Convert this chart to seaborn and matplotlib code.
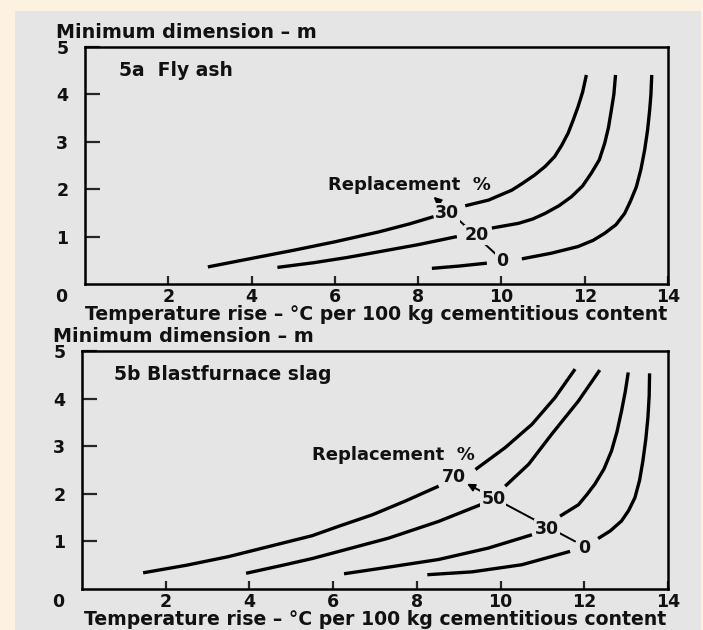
import numpy as np
import pandas as pd
import matplotlib
matplotlib.use("Agg")
import matplotlib.pyplot as plt
from matplotlib.patches import Rectangle
import seaborn as sns

# ── 5a Fly ash: curves per replacement %, NaN = gap where the label sits ──
nan = np.nan
fly_30_x = [2.95, 4.0, 5.0, 6.0, 7.06, 7.8, 8.37, 8.7, 9.13, 9.69, 10.25, 10.5, 10.8, 11.05,
            11.28, 11.45, 11.6, 11.72, 11.84, 11.95, 12.04]
fly_30_y = [0.36, 0.54, 0.71, 0.89, 1.10, 1.27, 1.42, nan, 1.65, 1.77, 1.98, 2.12, 2.30, 2.48,
            2.69, 2.93, 3.18, 3.45, 3.74, 4.05, 4.41]
fly_20_x = [4.62, 5.5, 6.3, 7.06, 8.0, 8.93, 9.4, 9.77, 10.41, 10.75, 11.05, 11.38, 11.68,
            11.95, 12.16, 12.35, 12.48, 12.57, 12.64, 12.70, 12.74]
fly_20_y = [0.35, 0.45, 0.56, 0.68, 0.83, 1.00, nan, 1.18, 1.28, 1.37, 1.49, 1.65, 1.84,
            2.07, 2.34, 2.62, 2.97, 3.30, 3.67, 4.00, 4.41]
fly_0_x = [8.33, 9.0, 9.65, 10.0, 10.49, 11.2, 11.84, 12.2, 12.48, 12.75, 12.96, 13.1, 13.24,
           13.35, 13.44, 13.51, 13.56, 13.59, 13.61]
fly_0_y = [0.33, 0.38, 0.44, nan, 0.53, 0.65, 0.79, 0.92, 1.07, 1.25, 1.49, 1.75, 2.05,
           2.42, 2.83, 3.25, 3.67, 4.00, 4.41]
fly_labels = ["30", "20", "0"]
fly_label_x = [8.69, 9.41, 10.02]
fly_label_y = [1.50, 1.03, 0.49]

# ── 5b Blastfurnace slag ──
slag_70_x = [1.46, 2.5, 3.5, 4.5, 5.5, 6.14, 6.94, 7.73, 8.52, 8.9, 9.4, 10.11, 10.75, 11.3, 11.78]
slag_70_y = [0.34, 0.50, 0.68, 0.90, 1.12, 1.32, 1.56, 1.85, 2.16, nan, 2.51, 2.97, 3.46, 4.02, 4.62]
slag_50_x = [3.92, 4.8, 5.5, 6.14, 7.33, 8.52, 9.52, 9.8, 10.11, 10.67, 11.22, 11.86, 12.37]
slag_50_y = [0.33, 0.50, 0.64, 0.79, 1.07, 1.42, 1.77, nan, 2.16, 2.62, 3.25, 3.95, 4.60]
slag_30_x = [6.26, 7.33, 8.52, 9.71, 10.75, 11.1, 11.42, 11.86, 12.05, 12.25, 12.47, 12.65,
             12.78, 12.89, 12.98, 13.05]
slag_30_y = [0.32, 0.46, 0.62, 0.86, 1.14, nan, 1.53, 1.77, 1.97, 2.20, 2.52, 2.90,
             3.30, 3.74, 4.15, 4.55]
slag_0_x = [8.25, 9.32, 10.51, 11.66, 12.0, 12.33, 12.62, 12.89, 13.06, 13.21, 13.32, 13.40,
            13.47, 13.52, 13.55, 13.56]
slag_0_y = [0.30, 0.36, 0.51, 0.79, nan, 1.06, 1.22, 1.43, 1.65, 1.92, 2.28, 2.69,
            3.15, 3.60, 4.05, 4.53]
slag_labels = ["70", "50", "30", "0"]
slag_label_x = [8.88, 9.83, 11.10, 12.0]
slag_label_y = [2.35, 1.90, 1.27, 0.86]

x_ticks = [2, 4, 6, 8, 10, 12, 14]
y_ticks = [1, 2, 3, 4, 5]

CREAM = "#fdf1e1"
PANEL = "#e5e5e5"
INK = "#111111"


def curves_frame(curves):
    parts = []
    for name, xs, ys in curves:
        d = pd.DataFrame({"x": xs, "y": ys})
        d["seg"] = name + "_" + d["y"].isna().cumsum().astype(str)
        parts.append(d.dropna())
    return pd.concat(parts, ignore_index=True)


def draw_panel(ax, curves, labels, lab_x, lab_y, arrow_tail, arrow_head,
               repl_xy, title, title_xy):
    df = curves_frame(curves)
    sns.lineplot(data=df, x="x", y="y", units="seg", estimator=None, sort=False,
                 color="black", lw=2.4, legend=False, ax=ax,
                 solid_joinstyle="round", solid_capstyle="butt")
    ax.annotate("", xy=arrow_head, xytext=arrow_tail, zorder=2,
                arrowprops=dict(arrowstyle="-|>", lw=1.4, color="black",
                                mutation_scale=11, shrinkA=0, shrinkB=0))
    for t, x, y in zip(labels, lab_x, lab_y):
        ax.text(x, y, t, ha="center", va="center", fontsize=12.5, fontweight="bold",
                color=INK, zorder=3,
                bbox=dict(boxstyle="square,pad=0.05", fc=PANEL, ec="none"))
    ax.text(repl_xy[0], repl_xy[1], "Replacement  %", ha="right", va="center",
            fontsize=13, fontweight="bold", color=INK)
    ax.text(title_xy[0], title_xy[1], title, ha="left", va="center",
            fontsize=13.5, fontweight="bold", color=INK)

    ax.set_xlim(0, 14)
    ax.set_ylim(0, 5)
    ax.set_xticks(x_ticks)
    ax.set_yticks(y_ticks)
    ax.set_xticklabels([str(v) for v in x_ticks], fontweight="bold", fontsize=12.5, color=INK)
    ax.set_yticklabels([str(v) for v in y_ticks], fontweight="bold", fontsize=12.5, color=INK)
    ax.tick_params(axis="x", direction="in", length=6, width=1.6, pad=3)
    ax.tick_params(axis="y", direction="in", length=11, width=1.6, pad=12)
    for s in ax.spines.values():
        s.set_visible(True)
        s.set_linewidth(1.8)
        s.set_color("black")
    ax.set_facecolor(PANEL)
    ax.set_ylabel("")
    ax.set_xlabel("Temperature rise – °C per 100 kg cementitious content",
                  fontsize=13.6, fontweight="bold", color=INK, labelpad=-1)
    ax.text(-0.04, -0.055, "0", transform=ax.transAxes, ha="center", va="center",
            fontsize=12.5, fontweight="bold", color=INK)
    ax.text(-0.05, 1.063, "Minimum dimension – m", transform=ax.transAxes,
            ha="left", va="center", fontsize=13.8, fontweight="bold", color=INK)


sns.set_style("ticks")
plt.rcParams["font.family"] = ["DejaVu Sans"]

fig = plt.figure(figsize=(7.03, 6.30), dpi=100, facecolor=CREAM)
fig.patches.append(Rectangle((15 / 703, 0), 686 / 703, 619 / 630,
                             transform=fig.transFigure, facecolor=PANEL,
                             edgecolor="none", zorder=-5))

ax1 = fig.add_axes([85 / 703, 346 / 630, 583 / 703, 237 / 630])
ax2 = fig.add_axes([82 / 703, 41 / 630, 586 / 703, 238 / 630])

draw_panel(ax1,
           [("30", fly_30_x, fly_30_y), ("20", fly_20_x, fly_20_y), ("0", fly_0_x, fly_0_y)],
           fly_labels, fly_label_x, fly_label_y,
           arrow_tail=(9.89, 0.61), arrow_head=(8.37, 1.84),
           repl_xy=(9.75, 2.09), title="5a  Fly ash", title_xy=(0.81, 4.5))

draw_panel(ax2,
           [("70", slag_70_x, slag_70_y), ("50", slag_50_x, slag_50_y),
            ("30", slag_30_x, slag_30_y), ("0", slag_0_x, slag_0_y)],
           slag_labels, slag_label_x, slag_label_y,
           arrow_tail=(11.78, 1.0), arrow_head=(9.2, 2.21),
           repl_xy=(9.38, 2.81), title="5b Blastfurnace slag", title_xy=(0.76, 4.51))

fig.savefig("out.png", dpi=100, facecolor=CREAM)
